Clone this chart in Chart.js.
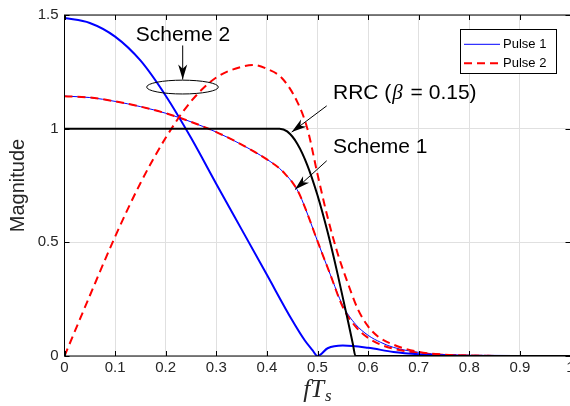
<!DOCTYPE html>
<html><head><meta charset="utf-8">
<script src="https://cdn.jsdelivr.net/npm/chart.js@4.4.1/dist/chart.umd.min.js"></script>
<style>
html,body{margin:0;padding:0;background:#fff;overflow:hidden;}
#wrap{position:relative;width:600px;height:406px;}
</style></head><body>
<div id="wrap"><canvas id="c"></canvas></div>
<script>
// ---- tick labels ----
const xTickValues = [0,0.1,0.2,0.3,0.4,0.5,0.6,0.7,0.8,0.9,1];
const xTickLabels = ['0','0.1','0.2','0.3','0.4','0.5','0.6','0.7','0.8','0.9','1'];
const yTickValues = [0,0.5,1,1.5];
const yTickLabels = ['0','0.5','1','1.5'];

// ---- Scheme 1 (Pulse 1 thin blue, Pulse 2 red dashed) ----
const s1Freq   = [0,0.05,0.1,0.15,0.2,0.25,0.3,0.35,0.4,0.425,0.4375,0.45,0.4625,0.475,0.5,0.525,0.55,0.575,0.6,0.625,0.65,0.7,0.75,0.8,0.9,1];
const s1Pulse1 = [1.143,1.137,1.12,1.097,1.068,1.03,0.985,0.93,0.865,0.825,0.797,0.765,0.72,0.655,0.505,0.36,0.222,0.14,0.091,0.06,0.038,0.016,0.006,0.002,0,0];
const s1Pulse2 = [1.143,1.137,1.12,1.097,1.068,1.03,0.985,0.93,0.865,0.825,0.797,0.765,0.72,0.655,0.505,0.36,0.215,0.13,0.08,0.05,0.032,0.013,0.005,0.002,0,0];

// ---- Scheme 2 ----
const s2P1Freq = [0,0.05,0.1,0.15,0.2,0.25,0.3,0.35,0.4,0.45,0.475,0.49,0.5,0.52,0.55,0.6,0.65,0.7,0.75,0.8,0.9,1];
const s2Pulse1 = [1.487,1.465,1.405,1.30,1.145,0.96,0.757,0.557,0.357,0.157,0.068,0.026,0,0.034,0.046,0.036,0.018,0.008,0.003,0.001,0,0];
const s2P2Freq = [0,0.05,0.1,0.15,0.2,0.25,0.3,0.35,0.375,0.4,0.43,0.46,0.48,0.5,0.52,0.54,0.56,0.58,0.6,0.62,0.65,0.7,0.75,0.8,0.9,1];
const s2Pulse2 = [0,0.265,0.525,0.76,0.96,1.12,1.225,1.272,1.28,1.263,1.222,1.118,1.0,0.80,0.61,0.45,0.32,0.205,0.13,0.085,0.05,0.018,0.006,0.002,0,0];

// ---- RRC (beta = 0.15) ----
const rrcFreq = [0,0.1,0.2,0.3,0.4,0.425,0.44,0.46,0.48,0.5,0.52,0.54,0.56,0.57,0.575,0.6,0.7,0.8,0.9,1];
const rrcMag  = [1,1,1,1,1,1,0.988,0.934,0.839,0.707,0.545,0.358,0.156,0.052,0,0,0,0,0,0];

const legendLabels = ['Pulse 1','Pulse 2'];
const xTitleParts = ['f','T','s'];
const yTitle = 'Magnitude';

function pts(xs, ys){ return xs.map((v,i)=>({x:v, y:ys[i]})); }

const SANS = '"Liberation Sans", Arial, Helvetica, sans-serif';
const SERIF = '"Liberation Serif", "Times New Roman", serif';

// annotation anchors in data units
const notes = {
  scheme2: {text:'Scheme 2', x:0.2342, y:1.412, arrowFrom:[0.2336,1.366], arrowTo:[0.2336,1.216], ellipse:{cx:0.2332, cy:1.183, rx:0.0708, ry:0.0304}},
  rrc: {x:0.5306, y:1.1555, arrowFrom:[0.5182,1.1003], arrowTo:[0.449,0.9848]},
  scheme1: {text:'Scheme 1', x:0.5306, y:0.9166, arrowFrom:[0.5182,0.8588], arrowTo:[0.4555,0.732]}
};

function arrow(ctx,x1,y1,x2,y2,len,w){
  ctx.beginPath(); ctx.moveTo(x1,y1); ctx.lineTo(x2,y2); ctx.stroke();
  const ang=Math.atan2(y2-y1,x2-x1), ux=Math.cos(ang), uy=Math.sin(ang), nx=-uy, ny=ux;
  const bx=x2-ux*len, by=y2-uy*len, cx=x2-ux*len*0.72, cy=y2-uy*len*0.72;
  ctx.beginPath(); ctx.moveTo(x2,y2); ctx.lineTo(bx+nx*w,by+ny*w); ctx.lineTo(cx,cy); ctx.lineTo(bx-nx*w,by-ny*w); ctx.closePath(); ctx.fill();
}

const overlay = {
  id:'overlay',
  afterDatasetsDraw(chart){
    const {ctx, chartArea:a, scales:{x,y}} = chart;
    ctx.save();
    // box
    ctx.strokeStyle='#000'; ctx.lineWidth=1;
    ctx.strokeRect(a.left, a.top, a.right-a.left, a.bottom-a.top);
    // inward ticks
    ctx.beginPath();
    xTickValues.forEach(v=>{const p=Math.round(x.getPixelForValue(v))+0.5; ctx.moveTo(p,a.bottom); ctx.lineTo(p,a.bottom-5); ctx.moveTo(p,a.top); ctx.lineTo(p,a.top+5);});
    yTickValues.forEach(v=>{const p=Math.round(y.getPixelForValue(v))+0.5; ctx.moveTo(a.left,p); ctx.lineTo(a.left+5,p); ctx.moveTo(a.right,p); ctx.lineTo(a.right-5,p);});
    ctx.stroke();

    ctx.fillStyle='#000'; ctx.strokeStyle='#000'; ctx.lineWidth=1;
    const F='21px '+SANS;
    // Scheme 2
    const s2=notes.scheme2;
    ctx.font=F; ctx.textAlign='center'; ctx.textBaseline='middle';
    ctx.fillText(s2.text, x.getPixelForValue(s2.x), y.getPixelForValue(s2.y));
    arrow(ctx, x.getPixelForValue(s2.arrowFrom[0]), y.getPixelForValue(s2.arrowFrom[1]), x.getPixelForValue(s2.arrowTo[0]), y.getPixelForValue(s2.arrowTo[1]), 15, 4.5);
    const e=s2.ellipse, ecx=x.getPixelForValue(e.cx), ecy=y.getPixelForValue(e.cy);
    ctx.beginPath(); ctx.ellipse(ecx, ecy, x.getPixelForValue(e.cx+e.rx)-ecx, ecy-y.getPixelForValue(e.cy+e.ry), 0, 0, Math.PI*2); ctx.stroke();

    // RRC
    const r=notes.rrc; let tx=x.getPixelForValue(r.x), ty=y.getPixelForValue(r.y);
    ctx.textAlign='left';
    ctx.font=F; ctx.fillText('RRC (', tx, ty); tx+=ctx.measureText('RRC (').width;
    ctx.font='italic 21px '+SERIF; ctx.fillText('\u03B2', tx+1, ty); tx+=ctx.measureText('\u03B2').width+3;
    ctx.font=F; ctx.fillText(' = 0.15)', tx, ty);
    arrow(ctx, x.getPixelForValue(r.arrowFrom[0]), y.getPixelForValue(r.arrowFrom[1]), x.getPixelForValue(r.arrowTo[0]), y.getPixelForValue(r.arrowTo[1]), 15, 4.5);

    // Scheme 1
    const s1=notes.scheme1;
    ctx.fillText(s1.text, x.getPixelForValue(s1.x), y.getPixelForValue(s1.y));
    arrow(ctx, x.getPixelForValue(s1.arrowFrom[0]), y.getPixelForValue(s1.arrowFrom[1]), x.getPixelForValue(s1.arrowTo[0]), y.getPixelForValue(s1.arrowTo[1]), 15, 4.5);

    // legend
    const lw=96, lh=44, lx=a.right-14.5-lw, ly=a.top+14.3;
    ctx.fillStyle='#fff'; ctx.fillRect(lx,ly,lw,lh);
    ctx.strokeStyle='#000'; ctx.lineWidth=1; ctx.strokeRect(Math.round(lx)+0.5, Math.round(ly)+0.5, lw, lh);
    const rows=[{c:'#0000ff',w:1,d:[]},{c:'#ff0000',w:2,d:[8,5]}];
    rows.forEach((row,i)=>{
      const yy=ly+15+i*19;
      ctx.strokeStyle=row.c; ctx.lineWidth=row.w; ctx.setLineDash(row.d);
      ctx.beginPath(); ctx.moveTo(lx+4,yy); ctx.lineTo(lx+40,yy); ctx.stroke();
      ctx.setLineDash([]);
      ctx.fillStyle='#000'; ctx.font='13px '+SANS; ctx.textAlign='left'; ctx.textBaseline='middle';
      ctx.fillText(legendLabels[i], lx+43, yy);
    });

    // axis titles
    ctx.fillStyle='#262626';
    ctx.save(); ctx.translate(18, (a.top+a.bottom)/2); ctx.rotate(-Math.PI/2);
    ctx.font='20px '+SANS; ctx.textAlign='center'; ctx.textBaseline='middle';
    ctx.fillText(yTitle,0,0); ctx.restore();

    ctx.textBaseline='alphabetic'; ctx.textAlign='left';
    ctx.font='italic 25px '+SERIF;
    const w1=ctx.measureText(xTitleParts[0]+xTitleParts[1]).width;
    ctx.font='italic 17px '+SERIF;
    const w2=ctx.measureText(xTitleParts[2]).width;
    let sx=(a.left+a.right)/2-(w1+w2+1)/2;
    ctx.font='italic 25px '+SERIF; ctx.fillText(xTitleParts[0]+xTitleParts[1], sx, a.bottom+41);
    ctx.font='italic 17px '+SERIF; ctx.fillText(xTitleParts[2], sx+w1+1, a.bottom+45);
    ctx.restore();
  }
};

new Chart(document.getElementById('c'), {
  type:'line',
  data:{datasets:[
    {label:'Pulse 1', data:pts(s1Freq,s1Pulse1), borderColor:'#0000ff', borderWidth:1, order:5},
    {label:'Pulse 2', data:pts(s1Freq,s1Pulse2), borderColor:'#ff0000', borderWidth:2, borderDash:[8,5], order:4},
    {label:'Scheme 2 Pulse 1', data:pts(s2P1Freq,s2Pulse1), borderColor:'#0000ff', borderWidth:2, order:3},
    {label:'Scheme 2 Pulse 2', data:pts(s2P2Freq,s2Pulse2), borderColor:'#ff0000', borderWidth:2, borderDash:[8,5], order:2},
    {label:'RRC', data:pts(rrcFreq,rrcMag), borderColor:'#000000', borderWidth:2, order:1}
  ]},
  options:{
    responsive:true, maintainAspectRatio:false, animation:false, devicePixelRatio:1,
    layout:{padding:{left:0,right:29.5,top:10.7,bottom:0}},
    elements:{point:{radius:0}, line:{cubicInterpolationMode:'monotone', fill:false, borderCapStyle:'butt', borderJoinStyle:'round'}},
    plugins:{legend:{display:false}, tooltip:{enabled:false}},
    scales:{
      x:{type:'linear', min:0, max:1,
        afterBuildTicks:s=>{s.ticks=xTickValues.map(v=>({value:v}));},
        afterFit:s=>{s.height=50;},
        ticks:{callback:(v,i)=>xTickLabels[i], maxRotation:0, autoSkip:false, color:'#262626', font:{family:SANS,size:15}, padding:3},
        grid:{color:'#e0e0e0', drawTicks:false}, border:{display:false}},
      y:{type:'linear', min:0, max:1.5,
        afterBuildTicks:s=>{s.ticks=yTickValues.map(v=>({value:v}));},
        afterFit:s=>{s.width=64.5;},
        ticks:{callback:(v,i)=>yTickLabels[i], color:'#262626', font:{family:SANS,size:15}, padding:6},
        grid:{color:'#e0e0e0', drawTicks:false}, border:{display:false}}
    }
  },
  plugins:[overlay]
});
</script>
</body></html>
